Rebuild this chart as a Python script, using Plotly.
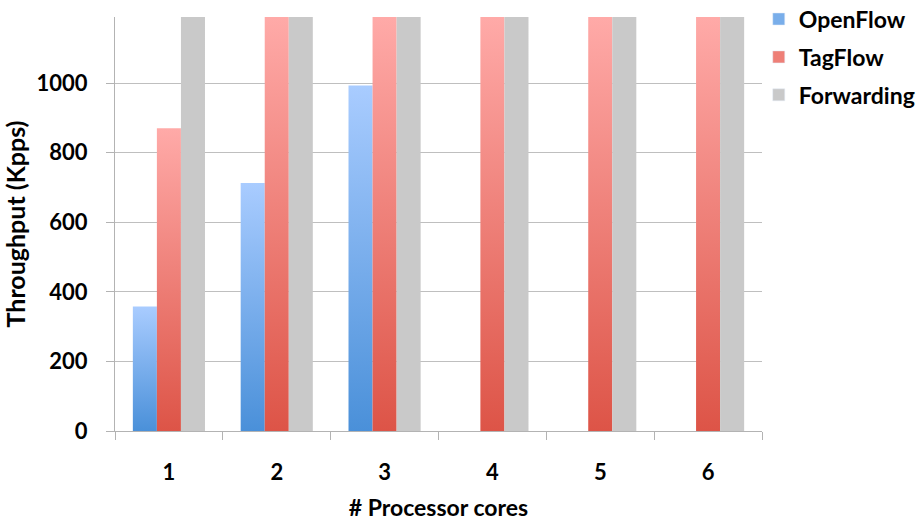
import plotly.graph_objects as go

# ---- data ----
categories = [1, 2, 3, 4, 5, 6]
openflow = [358, 713, 993, 0, 0, 0]
tagflow = [870, 1300, 1300, 1300, 1300, 1300]
forwarding = [1400, 1400, 1400, 1400, 1400, 1400]
series_names = ["OpenFlow", "TagFlow", "Forwarding"]
y_ticks = [0, 200, 400, 600, 800, 1000]

# ---- styling ----
YMAX = 1190
BAR_W = 0.223
FONT = "Lato"
styles = {
    "OpenFlow": {"top": "#a9ccff", "bottom": "#4a90d9", "mid": "#79aeea"},
    "TagFlow": {"top": "#ffaaa8", "bottom": "#dd5447", "mid": "#ee7f77"},
    "Forwarding": {"top": "#c9c9c9", "bottom": "#c9c9c9", "mid": "#c9c9c9"},
}

fig = go.Figure()
series = [openflow, tagflow, forwarding]
for si, (name, vals) in enumerate(zip(series_names, series)):
    st = styles[name]
    offset = (si - 1) * BAR_W
    for c, v in zip(categories, vals):
        if not v:
            continue
        h = min(v, YMAX)
        x0 = c + offset - BAR_W / 2
        x1 = c + offset + BAR_W / 2
        fig.add_trace(go.Scatter(
            x=[x0, x1, x1, x0, x0],
            y=[0, 0, h, h, 0],
            fill="toself",
            mode="lines",
            line=dict(width=0, color=st["mid"]),
            fillgradient=dict(type="vertical",
                              colorscale=[[0, st["bottom"]], [1, st["top"]]],
                              start=0, stop=h),
            showlegend=False,
            hoverinfo="skip",
        ))
    # legend entry
    fig.add_trace(go.Bar(
        x=[None], y=[None], name=name,
        marker=dict(color=st["mid"]),
        legendgroup=name, showlegend=True,
    ))

fig.update_layout(
    width=922, height=521,
    margin=dict(l=115, r=160, t=17, b=90, autoexpand=False),
    plot_bgcolor="white", paper_bgcolor="white",
    font=dict(family=FONT, size=22, color="black", weight="bold"),
    legend=dict(x=0.995, y=1.047, xanchor="left", yanchor="top",
                font=dict(family=FONT, size=23, weight="bold"),
                tracegroupgap=5, bgcolor="rgba(0,0,0,0)"),
    xaxis=dict(
        range=[0.5, 6.5],
        tickvals=categories,
        ticktext=[str(c) for c in categories],
        ticks="outside", ticklen=0, tickcolor="rgba(0,0,0,0)",
        ticklabelstandoff=22,
        showgrid=False, zeroline=False,
        showline=True, linecolor="#b3b3b3", linewidth=1,
        minor=dict(tick0=0.5, dtick=1, ticks="outside", ticklen=8,
                   tickcolor="#b3b3b3", showgrid=False),
        title=dict(text="# Processor cores", standoff=26,
                   font=dict(family=FONT, size=23, weight="bold")),
        tickfont=dict(family=FONT, size=22, weight="bold"),
        fixedrange=True,
    ),
    yaxis=dict(
        range=[0, YMAX],
        tickvals=y_ticks,
        ticks="outside", ticklen=8, tickcolor="#b3b3b3",
        ticklabelstandoff=14,
        showgrid=True, gridcolor="#bfbfbf", gridwidth=1,
        zeroline=False,
        showline=True, linecolor="#b3b3b3", linewidth=1,
        title=dict(text="Throughput (Kpps)", standoff=6,
                   font=dict(family=FONT, size=25, weight="bold")),
        tickfont=dict(family=FONT, size=22, weight="bold"),
        fixedrange=True,
    ),
    showlegend=True,
)

fig.write_html("out.html")
